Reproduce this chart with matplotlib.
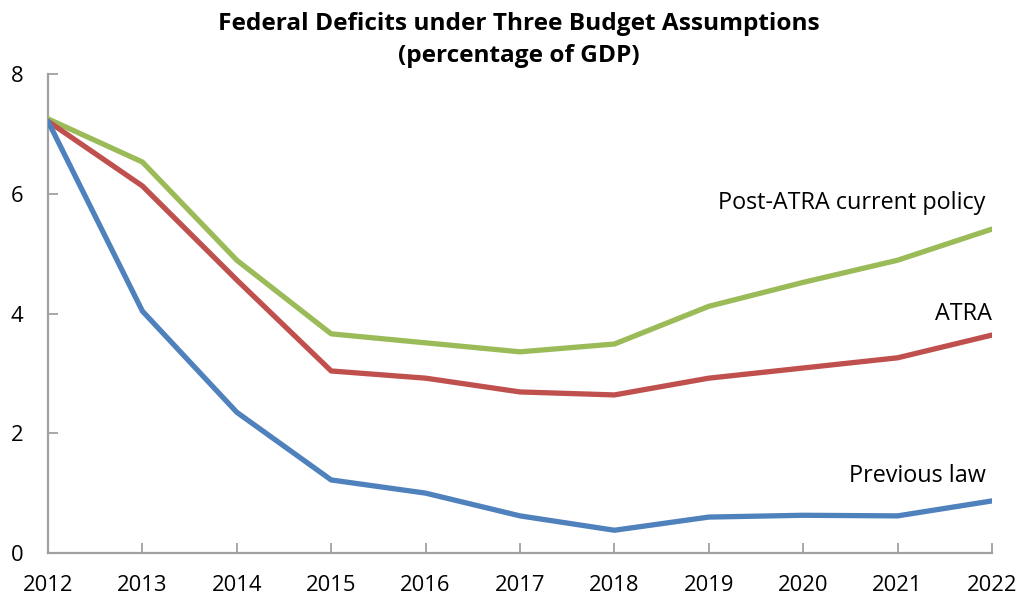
import matplotlib
matplotlib.use("Agg")
import matplotlib.pyplot as plt

years = [2012, 2013, 2014, 2015, 2016, 2017, 2018, 2019, 2020, 2021, 2022]
post_atra = [7.25, 6.53, 4.89, 3.66, 3.51, 3.36, 3.49, 4.12, 4.52, 4.89, 5.41]
atra = [7.21, 6.13, 4.56, 3.04, 2.92, 2.69, 2.64, 2.92, 3.09, 3.26, 3.64]
previous_law = [7.21, 4.04, 2.35, 1.22, 1.00, 0.62, 0.38, 0.60, 0.63, 0.62, 0.87]
yticks = [0, 2, 4, 6, 8]

plt.rcParams['font.family'] = ['Open Sans', 'DejaVu Sans']

fig = plt.figure(figsize=(10.21, 6.02), dpi=100)
ax = fig.add_axes([48/1021, 49/602, (992-48)/1021, (553-74)/602])

ax.plot(years, post_atra, color='#9BBB59', lw=3.8, solid_capstyle='round', zorder=3)
ax.plot(years, atra, color='#C0504D', lw=3.8, solid_capstyle='round', zorder=3)
ax.plot(years, previous_law, color='#4F81BD', lw=3.8, solid_capstyle='round', zorder=3)

ax.set_xlim(2012, 2022)
ax.set_ylim(0, 8)
ax.set_xticks(years)
ax.set_yticks(yticks)
ax.set_xticklabels([str(y) for y in years])
for s in ['top', 'right']:
    ax.spines[s].set_visible(False)
for s in ['left', 'bottom']:
    ax.spines[s].set_color('#A0A0A0')
    ax.spines[s].set_linewidth(1.6)
ax.tick_params(axis='both', direction='in', length=7, width=1.3, color='#A0A0A0',
               labelsize=15.8, labelcolor='black')
ax.tick_params(axis='x', pad=16)
ax.tick_params(axis='y', pad=18)

ax.text(0.993, 5.84, 'Post-ATRA current policy', transform=ax.get_yaxis_transform(),
        ha='right', va='center', fontsize=16.8)
ax.text(1.0, 3.99, 'ATRA', transform=ax.get_yaxis_transform(),
        ha='right', va='center', fontsize=16.8)
ax.text(0.993, 1.29, 'Previous law', transform=ax.get_yaxis_transform(),
        ha='right', va='center', fontsize=16.8)

fig.text(519/1021, 1 - 40/602, 'Federal Deficits under Three Budget Assumptions\n(percentage of GDP)',
         ha='center', va='center', fontsize=17.6, fontweight='bold', linespacing=1.45)

fig.savefig('out.png', dpi=100)
